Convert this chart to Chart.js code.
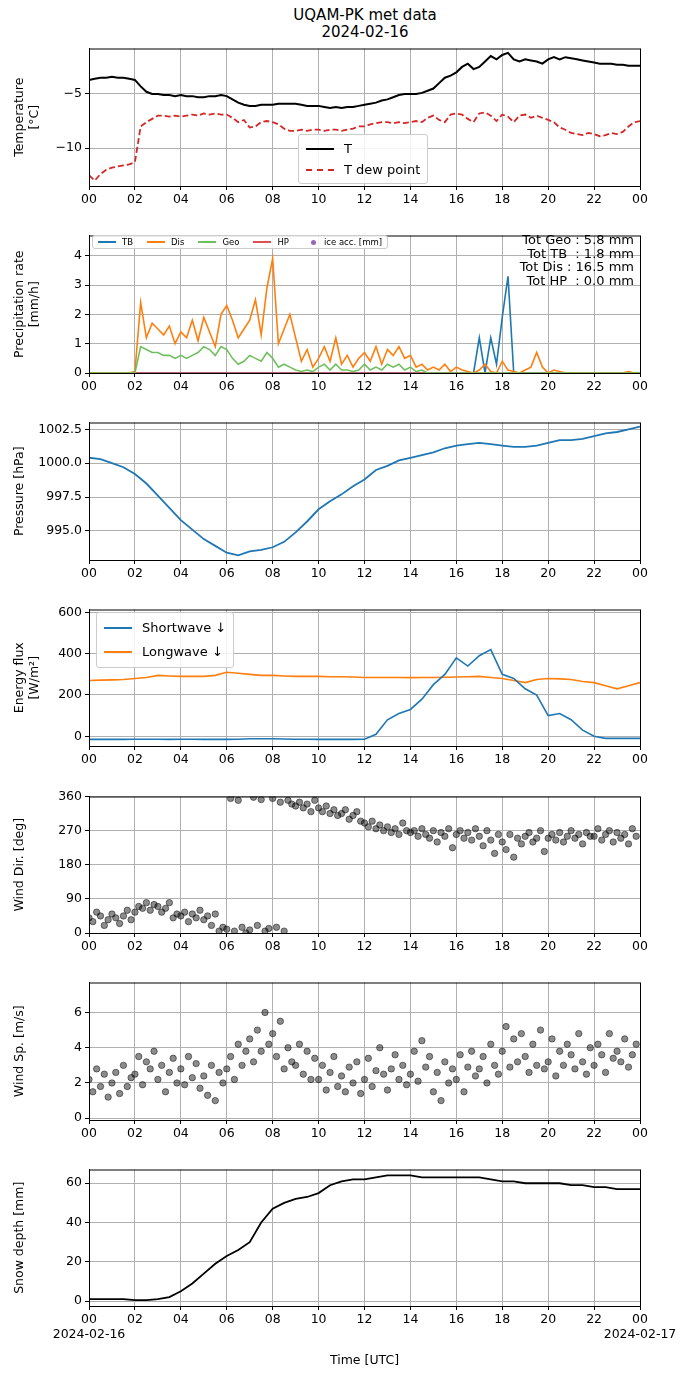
<!DOCTYPE html>
<html><head><meta charset="utf-8">
<script src="https://cdn.jsdelivr.net/npm/chart.js@4.4.1/dist/chart.umd.min.js"></script>
<style>
body{margin:0;background:#fff;font-family:"DejaVu Sans",sans-serif;}
.pan{position:absolute;left:0;}
.lg{position:absolute;background:rgba(255,255,255,0.85);border:1px solid #ccc;border-radius:3px;font-size:13px;color:#000;}
.lg div{display:flex;align-items:center;white-space:nowrap;}
</style></head><body>
<div style="position:absolute;left:0;width:730px;top:7px;text-align:center;font-size:15px;line-height:17px">UQAM-PK met data<br>2024-02-16</div>
<canvas id="c1" class="pan"></canvas><canvas id="c2" class="pan"></canvas><canvas id="c3" class="pan"></canvas>
<canvas id="c4" class="pan"></canvas><canvas id="c5" class="pan"></canvas><canvas id="c6" class="pan"></canvas><canvas id="c7" class="pan"></canvas>
<div class="lg" style="left:298px;top:134px;padding:3px 7px;line-height:21px">
 <div><span style="display:inline-block;width:28px;border-top:2px solid #000;margin-right:10px"></span>T</div>
 <div><span style="display:inline-block;width:28px;border-top:2px dashed #d62728;margin-right:10px"></span>T dew point</div>
</div>
<div class="lg" style="left:92px;top:235px;padding:1px 5px;font-size:8.5px;display:flex;gap:14px">
 <div><span style="display:inline-block;width:18px;border-top:2px solid #1f77b4;margin-right:6px"></span>TB</div>
 <div><span style="display:inline-block;width:18px;border-top:2px solid #ff7f0e;margin-right:6px"></span>Dis</div>
 <div><span style="display:inline-block;width:18px;border-top:2px solid #6fbf5f;margin-right:6px"></span>Geo</div>
 <div><span style="display:inline-block;width:18px;border-top:2px solid #e05050;margin-right:6px"></span>HP</div>
 <div><span style="display:inline-block;width:5px;height:5px;border-radius:3px;background:#9467bd;margin:0 8px"></span>ice acc. [mm]</div>
</div>
<div style="position:absolute;right:56px;top:233px;text-align:right;font-size:13px;line-height:13.5px;white-space:pre">Tot Geo : 5.8 mm
Tot TB  : 1.8 mm
Tot Dis : 16.5 mm
Tot HP  : 0.0 mm</div>
<div class="lg" style="left:96px;top:612px;padding:3px 7px;line-height:24px">
 <div><span style="display:inline-block;width:28px;border-top:2px solid #1f77b4;margin-right:10px"></span>Shortwave ↓</div>
 <div><span style="display:inline-block;width:28px;border-top:2px solid #ff7f0e;margin-right:10px"></span>Longwave ↓</div>
</div>
<script>
"use strict";
// ---- data (15 min steps unless noted) ----
var tempT = [-3.7,-3.6,-3.5,-3.5, -3.4,-3.5,-3.5,-3.6, -3.7,-4.3,-4.8,-5.0, -5.0,-5.1,-5.1,-5.2,
 -5.1,-5.2,-5.2,-5.3, -5.3,-5.2,-5.2,-5.1, -5.2,-5.5,-5.8,-6.0, -6.1,-6.1,-6.0,-6.0,
 -6.0,-5.9,-5.9,-5.9, -5.9,-6.0,-6.1,-6.1, -6.1,-6.2,-6.3,-6.2, -6.3,-6.2,-6.2,-6.1,
 -6.0,-5.9,-5.8,-5.6, -5.5,-5.3,-5.1,-5.0, -5.0,-5.0,-4.9,-4.7, -4.5,-4.0,-3.5,-3.3,
 -3.0,-2.5,-2.2,-2.7, -2.5,-2.0,-1.5,-1.8, -1.4,-1.2,-1.8,-2.0, -1.8,-1.9,-2.0,-2.2,
 -1.8,-1.6,-1.8,-1.6, -1.7,-1.8,-1.9,-2.0, -2.1,-2.2,-2.2,-2.2, -2.3,-2.3,-2.4,-2.4, -2.4];
var tempDew = [-12.5,-13.0,-12.4,-12.0, -11.8,-11.7,-11.6,-11.5, -11.3,-8.0,-7.6,-7.3, -7.0,-7.0,-7.1,-7.0,
 -7.1,-7.0,-6.9,-7.0, -6.8,-6.9,-6.8,-6.9, -6.9,-7.2,-7.6,-7.4, -8.1,-8.0,-7.6,-7.5,
 -7.6,-7.8,-8.2,-8.4, -8.4,-8.3,-8.4,-8.3, -8.3,-8.4,-8.3,-8.3, -8.4,-8.3,-8.2,-8.0,
 -8.0,-7.8,-7.7,-7.6, -7.6,-7.7,-7.6,-7.7, -7.6,-7.5,-7.6,-7.2, -7.0,-7.4,-7.6,-6.9,
 -6.8,-6.9,-7.3,-7.6, -6.8,-6.7,-7.0,-7.5, -6.9,-7.1,-7.6,-7.0, -6.9,-7.2,-7.0,-7.2,
 -7.4,-7.6,-8.1,-8.3, -8.6,-8.7,-8.8,-8.6, -8.7,-8.9,-8.8,-8.6, -8.7,-8.5,-8.0,-7.6, -7.5];
var precipDis = [0,0,0,0, 0,0,0,0, 0.05,2.4,1.2,1.7, 1.5,1.3,1.6,1.0, 1.4,1.2,1.8,1.1, 1.9,1.4,0.9,2.0,
 2.3,1.8,1.2,1.5, 1.8,2.5,1.3,2.9, 3.9,1.0,1.5,2.0, 1.2,0.4,0.8,0.2, 0.5,0.9,0.4,1.2, 0.3,0.6,0.2,0.5,
 0.7,0.4,0.9,0.3, 0.8,0.6,0.9,0.5, 0.6,0.2,0.3,0.1, 0.2,0.1,0.3,0.05, 0.2,0.1,0.05,0, 0.1,0.3,0.05,0,
 0.4,0.1,0.05,0, 0.1,0.2,0.7,0.2, 0,0.1,0.05,0, 0,0,0,0, 0,0,0,0, 0,0,0.05,0, 0];
var precipGeo = [0,0,0,0, 0,0,0,0, 0,0.9,0.8,0.7, 0.7,0.6,0.6,0.5, 0.6,0.5,0.6,0.7, 0.9,0.8,0.6,0.9,
 0.8,0.5,0.3,0.4, 0.6,0.5,0.4,0.7, 0.5,0.2,0.3,0.2, 0.1,0.05,0.1,0.05, 0.2,0.3,0.1,0.3, 0.1,0.1,0.05,0.1,
 0.3,0.1,0.2,0.1, 0.3,0.2,0.3,0.1, 0.2,0.05,0.1,0, 0,0,0,0, 0,0,0,0, 0,0,0,0,
 0,0,0,0, 0,0,0,0, 0,0,0,0, 0,0,0,0, 0,0,0,0, 0,0,0,0, 0];
var precipTB = [0,0,0,0, 0,0,0,0, 0,0,0,0, 0,0,0,0, 0,0,0,0, 0,0,0,0, 0,0,0,0, 0,0,0,0, 0,0,0,0, 0,0,0,0,
 0,0,0,0, 0,0,0,0, 0,0,0,0, 0,0,0,0, 0,0,0,0, 0,0,0,0, 0,0,0,0, 1.2,0,1.2,0.3, 1.9,3.3,0,0,
 0,0,0,0, 0,0,0,0, 0,0,0,0, 0,0,0,0, 0,0,0,0, 0];
var precipHP = [0, 0];
var iceAcc = [];
// 30 min steps
var pressure = [1000.4,1000.3,1000.0,999.7,999.2,998.5,997.6,996.7,995.8,995.1,994.4,993.9,993.4,993.2,993.5,993.6,
 993.8,994.2,994.9,995.7,996.6,997.2,997.7,998.3,998.8,999.5,999.8,1000.2,1000.4,1000.6,1000.8,1001.1,
 1001.3,1001.4,1001.5,1001.4,1001.3,1001.2,1001.2,1001.3,1001.5,1001.7,1001.7,1001.8,1002.0,1002.2,1002.3,1002.5,1002.7];
var shortwave = [-15,-15,-15,-15,-14,-14,-14,-15,-14,-14,-15,-15,-15,-14,-12,-12,
 -12,-13,-14,-14,-15,-15,-15,-15,-14,10,80,110,130,180,250,300,
 380,340,390,420,300,280,230,200,100,110,80,30,0,-10,-10,-10,-10];
var longwave = [270,272,273,275,280,285,295,292,290,290,290,295,310,305,300,295,
 295,292,290,290,290,288,288,287,285,285,285,285,284,285,285,286,
 287,288,290,285,280,270,260,275,280,278,275,265,260,245,230,245,260];
// 10 min steps
var windDir = [40,30,55,45,20,35, 50,40,25,45,60,35, 55,70,65,80,60,75, 70,55,65,80,40,50,
 45,55,30,50,40,60, 35,45,20,50,5,15, 10,355,5,350,15,0, 8,358,20,352,5,12,
 355,15,345,5,350,340, 335,345,330,340,320,350, 330,320,335,315,325,310, 315,325,300,310,320,295,
 290,280,295,275,285,270, 280,265,275,260,290,270, 265,270,255,275,260,250, 270,240,265,255,275,225,
 260,270,250,265,245,275, 255,230,270,245,210,260, 240,220,260,200,250,235, 255,265,240,250,270,215,
 250,260,245,265,240,255, 270,250,260,235,265,255, 255,275,245,260,270,240, 265,250,260,235,275,255];
var windSpeed = [2.2,1.5,2.8,1.8,2.5,1.2, 2.0,2.6,1.4,3.0,1.8,2.3, 2.5,3.5,1.9,3.2,2.8,3.8, 2.2,3.0,1.5,2.6,3.4,2.0,
 2.8,1.9,3.5,2.3,3.1,1.7, 2.4,1.3,3.0,1.0,2.6,2.0, 2.8,3.5,2.2,4.2,3.0,3.8, 4.5,3.2,5.0,3.8,6.0,4.2,
 4.8,3.5,5.5,2.8,4.0,3.2, 3.0,4.2,2.5,3.8,2.2,3.4, 2.2,3.0,1.6,2.6,3.5,1.8, 2.4,1.5,2.9,2.0,3.2,1.4,
 2.2,3.4,1.8,2.7,4.0,2.5, 1.6,2.8,3.6,2.2,3.0,1.9, 2.5,3.8,2.1,4.4,2.9,3.5, 1.5,2.6,1.0,3.2,2.0,2.8,
 2.2,3.6,1.5,2.9,3.8,2.4, 2.8,3.5,2.0,4.2,3.0,2.5, 3.8,5.2,2.9,4.5,3.2,4.8, 3.5,2.6,4.2,3.0,5.0,2.8,
 3.2,4.5,2.4,3.8,3.0,4.2, 3.6,2.8,4.8,3.2,2.5,4.0, 3.0,4.2,3.6,2.6,4.8,3.4, 3.8,3.2,4.5,2.9,3.6,4.2];
var snowDepth = [1,1,1,1,0.5,0.5,1,2,5,9,14,19,23,26,30,40,47,50,52,53,55,59,61,62,62,63,64,64,64,63,63,63,
 63,63,63,62,61,61,60,60,60,60,59,59,58,58,57,57,57];
var hourTicks = [0,2,4,6,8,10,12,14,16,18,20,22,24];

function xy(arr, step) { return arr.map(function (v, i) { return {x: i * step, y: v}; }); }

var L = 89, R = 640, W = 690;
var frame = {id: "frame", afterDraw: function (c) {
    var a = c.chartArea, ctx = c.ctx; ctx.save(); ctx.strokeStyle = "#000"; ctx.lineWidth = 1;
    ctx.strokeRect(a.left + 0.5, a.top + 0.5, a.right - a.left, a.bottom - a.top); ctx.restore(); }};
var font = {family: "DejaVu Sans", size: 12.5};

function panel(id, top, bottom, datasets, yMin, yMax, yTicks, yTitle, yFmt, last) {
    var el = document.getElementById(id);
    var xh = last ? 62 : 22;
    el.width = W; el.height = bottom - top + 6 + xh;
    el.style.top = (top - 6) + "px";
    new Chart(el, {
        type: "line",
        data: {datasets: datasets},
        plugins: [frame],
        options: {
            responsive: false, animation: false, devicePixelRatio: 1,
            layout: {padding: {top: 6, right: W - R, left: 0, bottom: 0}},
            plugins: {legend: {display: false}, tooltip: {enabled: false}},
            elements: {point: {radius: 0}, line: {tension: 0}},
            scales: {
                x: {type: "linear", min: 0, max: 24,
                    afterBuildTicks: function (s) { s.ticks = hourTicks.map(function (v) { return {value: v}; }); },
                    afterFit: function (s) { s.height = xh; },
                    grid: {color: "#b0b0b0", tickLength: 4, tickColor: "#000"}, border: {color: "#000"},
                    ticks: {color: "#000", font: font, maxRotation: 0, autoSkip: false, padding: 2,
                        callback: function (v) {
                            var t = String(v % 24).padStart(2, "0");
                            if (last && v === 0) return [t, "2024-02-16"];
                            if (last && v === 24) return [t, "2024-02-17"];
                            return t; }},
                    title: {display: !!last, text: "Time [UTC]", color: "#000", font: font, padding: 0}},
                y: {min: yMin, max: yMax,
                    afterBuildTicks: function (s) { s.ticks = yTicks.map(function (v) { return {value: v}; }); },
                    afterFit: function (s) { s.width = L; },
                    grid: {color: "#b0b0b0", tickLength: 4, tickColor: "#000"}, border: {color: "#000"},
                    ticks: {color: "#000", font: font, padding: 3, callback: yFmt || function (v) { return v; }},
                    title: {display: true, text: yTitle, color: "#000", font: font, padding: {top: 12, bottom: 2}}}
            }
        }
    });
}

function line(data, step, color, w, dash) {
    return {data: xy(data, step), borderColor: color, borderWidth: w, borderDash: dash || [], pointRadius: 0};
}
function dots(data, step) {
    return {data: xy(data, step), showLine: false, pointRadius: 3.2, pointBackgroundColor: "rgba(0,0,0,0.45)",
        pointBorderColor: "rgba(0,0,0,0.6)", pointBorderWidth: 0.8};
}

panel("c1", 44, 186, [line(tempT, 0.25, "#000", 2), line(tempDew, 0.25, "#d62728", 1.8, [6, 3])],
    -13.5, -0.8, [-10, -5], ["Temperature", "[°C]"], function (v) { return v === -5 ? "−5" : "−10"; });
panel("c2", 231, 373, [line(precipGeo, 0.25, "#6fbf5f", 1.6), line(precipDis, 0.25, "#ff7f0e", 1.6),
    line(precipHP, 24, "#e05050", 1.6), line(precipTB, 0.25, "#1f77b4", 1.6)],
    0, 4.69, [0, 1, 2, 3, 4], ["Precipitation rate", "[mm/h]"]);
panel("c3", 418, 560, [line(pressure, 0.5, "#1f77b4", 1.8)], 992.86, 1003.0, [995, 997.5, 1000, 1002.5],
    "Pressure [hPa]", function (v) { return v.toFixed(1); });
panel("c4", 605, 746, [line(shortwave, 0.5, "#1f77b4", 1.6), line(longwave, 0.5, "#ff7f0e", 1.6)],
    -47, 614, [0, 200, 400, 600], ["Energy flux", "[W/m²]"]);
panel("c5", 792, 933, [dots(windDir, 1 / 6)], 0, 360, [0, 90, 180, 270, 360], "Wind Dir. [deg]");
panel("c6", 978, 1120, [dots(windSpeed, 1 / 6)], -0.1, 7.7, [0, 2, 4, 6], "Wind Sp. [m/s]");
panel("c7", 1165, 1306, [line(snowDepth, 0.5, "#000", 1.8)], -2.5, 67, [0, 20, 40, 60], "Snow depth [mm]", null, true);
</script>
</body></html>
